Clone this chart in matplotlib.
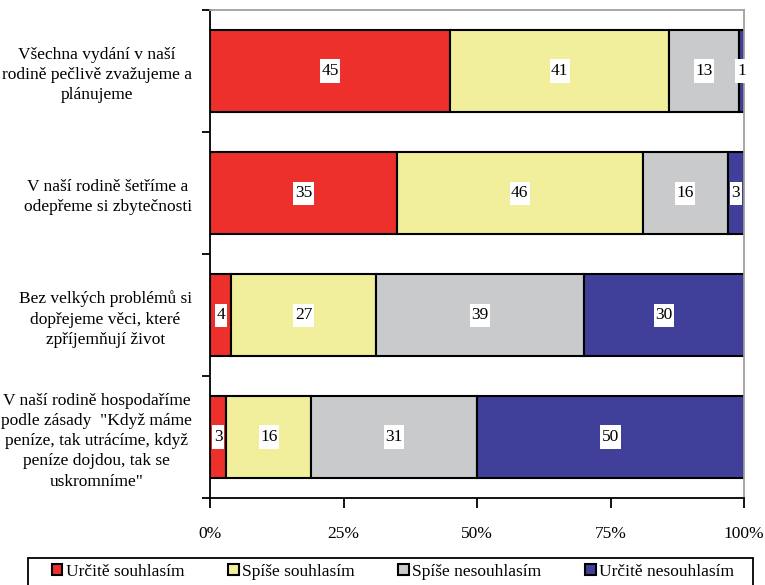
import matplotlib
matplotlib.use("Agg")
import matplotlib.pyplot as plt
from matplotlib.ticker import FixedLocator
from matplotlib.patches import Rectangle

categories = [
    "Všechna vydání v naší\nrodině pečlivě zvažujeme a\nplánujeme",
    "V naší rodině šetříme a\nodepřeme si zbytečnosti",
    "Bez velkých problémů si\ndopřejeme věci, které\nzpříjemňují život",
    "V naší rodině hospodaříme\npodle zásady  \"Když máme\npeníze, tak utrácíme, když\npeníze dojdou, tak se\nuskromníme\"",
]
series_names = ["Určitě souhlasím", "Spíše souhlasím", "Spíše nesouhlasím", "Určitě nesouhlasím"]
urcite_souhlasim = [45, 35, 4, 3]
spise_souhlasim = [41, 46, 27, 16]
spise_nesouhlasim = [13, 16, 39, 31]
urcite_nesouhlasim = [1, 3, 30, 50]
x_ticks = [0, 25, 50, 75, 100]
x_tick_labels = ["0%", "25%", "50%", "75%", "100%"]

colors = ["#EE302C", "#F1EF9B", "#C9CACC", "#40409A"]

plt.rcParams['font.family'] = ['Liberation Serif', 'DejaVu Serif']

fig = plt.figure(figsize=(7.65, 5.85), dpi=100)
ax = fig.add_axes([210/765, 1-498/585, 534/765, 488/585])

series = [urcite_souhlasim, spise_souhlasim, spise_nesouhlasim, urcite_nesouhlasim]
y = list(range(len(categories)))
left = [0]*len(categories)
labels = []
for name, vals, col in zip(series_names, series, colors):
    ax.barh(y, vals, left=left, height=0.68, color=col, edgecolor='black',
            linewidth=1.5, label=name)
    for yi, v, l in zip(y, vals, left):
        t = ax.text(l + v/2, yi, str(v), ha='center', va='center', fontsize=12.5, zorder=6)
        labels.append(t)
    left = [a + b for a, b in zip(left, vals)]

ax.set_xlim(0, 100)
ax.set_ylim(3.5, -0.5)

ax.xaxis.set_major_locator(FixedLocator(x_ticks))
ax.set_xticklabels(x_tick_labels, fontsize=12.5)
ax.tick_params(axis='x', direction='out', length=7, width=1.3, pad=13, color='black')

ax.yaxis.set_major_locator(FixedLocator([-0.5, 0.5, 1.5, 2.5, 3.5]))
ax.yaxis.set_minor_locator(FixedLocator(y))
ax.set_yticklabels([], minor=False)
ax.set_yticklabels(categories, minor=True, fontsize=12.5)
for t in ax.get_yticklabels(minor=True):
    t.set_multialignment('center')
    t.set_linespacing(1.35)
ax.tick_params(axis='y', which='major', direction='out', length=6, width=1.3)
ax.tick_params(axis='y', which='minor', length=0, pad=13)

for s in ['left', 'bottom']:
    ax.spines[s].set_color('black')
    ax.spines[s].set_linewidth(1.3)
for s in ['top', 'right']:
    ax.spines[s].set_color('#A0A0A0')
    ax.spines[s].set_linewidth(1.3)

# legend frame drawn separately, legend entries expanded in an inner box
fig.patches.append(Rectangle((28/765, -0.05), 725/765, 0.05 + 1 - 558/585,
                             transform=fig.transFigure, facecolor='white',
                             edgecolor='black', linewidth=1.3, zorder=1))
leg = fig.legend(loc='upper left', bbox_to_anchor=(52/765, 0, 682/765, 1-564/585),
                 mode='expand', ncol=4, fontsize=12.5, frameon=False,
                 handlelength=0.6, handleheight=0.6, handletextpad=0.2,
                 borderaxespad=0, borderpad=0.0)
for h in leg.legend_handles:
    h.set_edgecolor('black')
    h.set_linewidth(1.5)

# white boxes behind data labels
fig.canvas.draw()
renderer = fig.canvas.get_renderer()
inv = ax.transData.inverted()
for t in labels:
    bb = t.get_window_extent(renderer)
    x0, y0 = inv.transform((bb.x0 - 1.5, bb.y0 - 3.5))
    x1, y1 = inv.transform((bb.x1 + 1.5, bb.y1 + 3.5))
    ax.add_patch(Rectangle((x0, y0), x1 - x0, y1 - y0, facecolor='white',
                           edgecolor='none', zorder=5, clip_on=False))

fig.savefig("out.png", dpi=100)
